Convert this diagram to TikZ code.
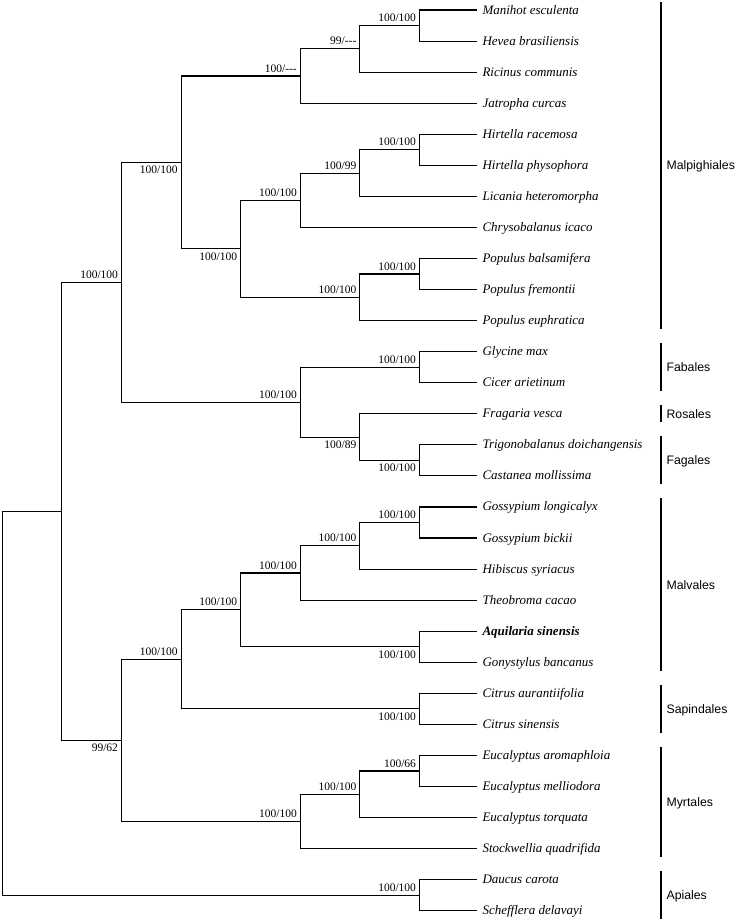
\documentclass[tikz,border=0pt]{standalone}
\usepackage{fontspec}
\setmainfont{Liberation Serif}
\setsansfont{Liberation Sans}
\begin{document}
\begin{tikzpicture}[x=1pt,y=-1pt,line width=1.1pt,
  taxon/.style={anchor=west,inner xsep=5pt,text height=8pt,text depth=0pt,font=\fontsize{13}{15}\selectfont\itshape},
  bsup/.style={anchor=south east,inner xsep=3pt,inner ysep=3.3pt,font=\fontsize{11.5}{13}\selectfont},
  bsdown/.style={bsup,anchor=north east},
  order/.style={anchor=west,inner xsep=5pt,text height=8.8pt,text depth=0pt,font=\sffamily\fontsize{12.3}{14}\selectfont}]

\useasboundingbox (0,0) rectangle (737,922);

\node[taxon] (manihot) at (477,10) {Manihot esculenta};
\node[taxon] (hevea) at (477,41.06) {Hevea brasiliensis};
\node[taxon] (ricinus) at (477,72.12) {Ricinus communis};
\node[taxon] (jatropha) at (477,103.18) {Jatropha curcas};
\node[taxon] (hracemosa) at (477,134.24) {Hirtella racemosa};
\node[taxon] (hphysophora) at (477,165.3) {Hirtella physophora};
\node[taxon] (licania) at (477,196.36) {Licania heteromorpha};
\node[taxon] (chrysobalanus) at (477,227.42) {Chrysobalanus icaco};
\node[taxon] (pbalsamifera) at (477,258.48) {Populus balsamifera};
\node[taxon] (pfremontii) at (477,289.54) {Populus fremontii};
\node[taxon] (peuphratica) at (477,320.6) {Populus euphratica};
\node[taxon] (glycine) at (477,351.66) {Glycine max};
\node[taxon] (cicer) at (477,382.72) {Cicer arietinum};
\node[taxon] (fragaria) at (477,413.78) {Fragaria vesca};
\node[taxon] (trigonobalanus) at (477,444.84) {Trigonobalanus doichangensis};
\node[taxon] (castanea) at (477,475.9) {Castanea mollissima};
\node[taxon] (glongicalyx) at (477,506.96) {Gossypium longicalyx};
\node[taxon] (gbickii) at (477,538.02) {Gossypium bickii};
\node[taxon] (hibiscus) at (477,569.08) {Hibiscus syriacus};
\node[taxon] (theobroma) at (477,600.14) {Theobroma cacao};
\node[taxon,font=\fontsize{13}{15}\selectfont\bfseries\itshape] (aquilaria) at (477,631.2) {Aquilaria sinensis};
\node[taxon] (gonystylus) at (477,662.26) {Gonystylus bancanus};
\node[taxon] (caurantiifolia) at (477,693.32) {Citrus aurantiifolia};
\node[taxon] (csinensis) at (477,724.38) {Citrus sinensis};
\node[taxon] (earomaphloia) at (477,755.44) {Eucalyptus aromaphloia};
\node[taxon] (emelliodora) at (477,786.5) {Eucalyptus melliodora};
\node[taxon] (etorquata) at (477,817.56) {Eucalyptus torquata};
\node[taxon] (stockwellia) at (477,848.62) {Stockwellia quadrifida};
\node[taxon] (daucus) at (477,879.68) {Daucus carota};
\node[taxon] (schefflera) at (477,910.74) {Schefflera delavayi};

\coordinate (manhev) at (419.5,25.53);
\coordinate (manric) at (359.9,48.83);
\coordinate (euphorb) at (300.3,76.0);
\coordinate (hirtella) at (419.5,149.77);
\coordinate (hirlic) at (359.9,173.07);
\coordinate (chryso) at (300.3,200.24);
\coordinate (popbf) at (419.5,274.01);
\coordinate (populus) at (359.9,297.3);
\coordinate (chrpop) at (240.7,248.77);
\coordinate (malpig) at (181.1,162.39);
\coordinate (fabales) at (419.5,367.19);
\coordinate (fagales) at (419.5,460.37);
\coordinate (rosfag) at (359.9,437.08);
\coordinate (fabrosfag) at (300.3,402.13);
\coordinate (fabmalp) at (121.5,282.26);
\coordinate (gossyp) at (419.5,522.49);
\coordinate (gosshib) at (359.9,545.79);
\coordinate (malvaceae) at (300.3,572.96);
\coordinate (thymel) at (419.5,646.73);
\coordinate (malvales) at (240.7,609.85);
\coordinate (citrus) at (419.5,708.85);
\coordinate (malvsap) at (181.1,659.35);
\coordinate (eucam) at (419.5,770.97);
\coordinate (eucalypt) at (359.9,794.27);
\coordinate (myrtales) at (300.3,821.44);
\coordinate (malvids) at (121.5,740.4);
\coordinate (rosids) at (61.9,511.33);
\coordinate (apiales) at (419.5,895.21);
\coordinate (root) at (2.3,703.27);

\draw (manihot.west) -| (manhev) |- (hevea.west);
\draw (manhev) node[bsup] {100/100} -| (manric) |- (ricinus.west);
\draw (manric) node[bsup] {99/{-}{-}{-}} -| (euphorb) |- (jatropha.west);
\draw (hracemosa.west) -| (hirtella) |- (hphysophora.west);
\draw (hirtella) node[bsup] {100/100} -| (hirlic) |- (licania.west);
\draw (hirlic) node[bsup] {100/99} -| (chryso) |- (chrysobalanus.west);
\draw (pbalsamifera.west) -| (popbf) |- (pfremontii.west);
\draw (popbf) node[bsup] {100/100} -| (populus) |- (peuphratica.west);
\draw (chryso) node[bsup] {100/100} -| (chrpop) |- (populus) node[bsup] {100/100};
\draw (euphorb) node[bsup] {100/{-}{-}{-}} -| (malpig) |- (chrpop) node[bsdown] {100/100};

\draw (glycine.west) -| (fabales) |- (cicer.west);
\draw (trigonobalanus.west) -| (fagales) |- (castanea.west);
\draw (fragaria.west) -| (rosfag) |- (fagales) node[bsdown] {100/100};
\draw (fabales) node[bsup] {100/100} -| (fabrosfag) |- (rosfag) node[bsdown] {100/89};
\draw (malpig) node[bsdown] {100/100} -| (fabmalp) |- (fabrosfag) node[bsup] {100/100};

\draw (glongicalyx.west) -| (gossyp) |- (gbickii.west);
\draw (gossyp) node[bsup] {100/100} -| (gosshib) |- (hibiscus.west);
\draw (gosshib) node[bsup] {100/100} -| (malvaceae) |- (theobroma.west);
\draw (aquilaria.west) -| (thymel) |- (gonystylus.west);
\draw (malvaceae) node[bsup] {100/100} -| (malvales) |- (thymel) node[bsdown] {100/100};
\draw (caurantiifolia.west) -| (citrus) |- (csinensis.west);
\draw (malvales) node[bsup] {100/100} -| (malvsap) |- (citrus) node[bsdown] {100/100};
\draw (earomaphloia.west) -| (eucam) |- (emelliodora.west);
\draw (eucam) node[bsup] {100/66} -| (eucalypt) |- (etorquata.west);
\draw (eucalypt) node[bsup] {100/100} -| (myrtales) |- (stockwellia.west);
\draw (malvsap) node[bsup] {100/100} -| (malvids) |- (myrtales) node[bsup] {100/100};
\draw (fabmalp) node[bsup] {100/100} -| (rosids) |- (malvids) node[bsdown] {99/62};

\draw (daucus.west) -| (apiales) |- (schefflera.west);
\draw (rosids) -| (root) |- (apiales) node[bsup] {100/100};

\draw ([xshift=184,yshift=8.5]manihot.west) -- node[order] {Malpighiales} ([xshift=184,yshift=-8.5]peuphratica.west);
\draw ([xshift=184,yshift=8.5]glycine.west) -- node[order] {Fabales} ([xshift=184,yshift=-8.5]cicer.west);
\draw ([xshift=184,yshift=8.5]fragaria.west) -- node[order] {Rosales} ([xshift=184,yshift=-8.5]fragaria.west);
\draw ([xshift=184,yshift=8.5]trigonobalanus.west) -- node[order] {Fagales} ([xshift=184,yshift=-8.5]castanea.west);
\draw ([xshift=184,yshift=8.5]glongicalyx.west) -- node[order] {Malvales} ([xshift=184,yshift=-8.5]gonystylus.west);
\draw ([xshift=184,yshift=8.5]caurantiifolia.west) -- node[order] {Sapindales} ([xshift=184,yshift=-8.5]csinensis.west);
\draw ([xshift=184,yshift=8.5]earomaphloia.west) -- node[order] {Myrtales} ([xshift=184,yshift=-8.5]stockwellia.west);
\draw ([xshift=184,yshift=8.5]daucus.west) -- node[order] {Apiales} ([xshift=184,yshift=-8.5]schefflera.west);

\end{tikzpicture}
\end{document}
